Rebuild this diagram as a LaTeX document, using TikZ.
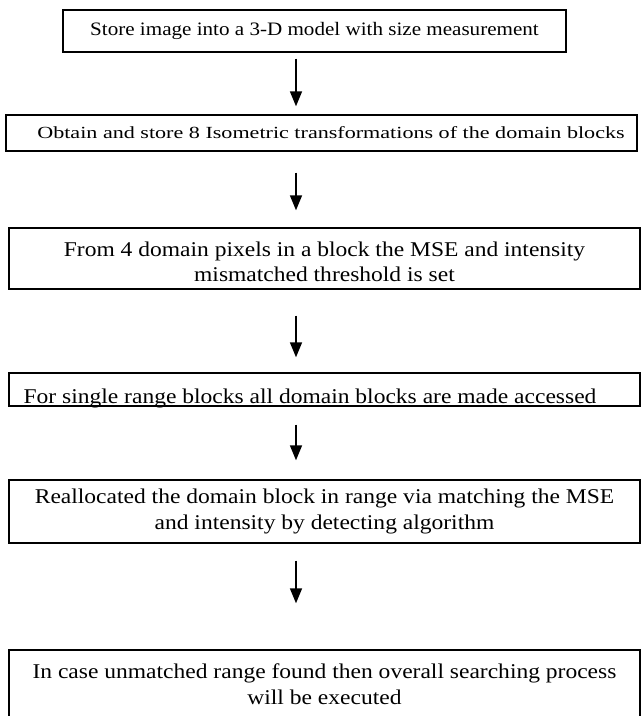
\documentclass[tikz,border=0pt]{standalone}
\usepackage{fontspec}
\setmainfont{Liberation Serif}
\usetikzlibrary{arrows.meta}
\begin{document}
\begin{tikzpicture}[x=1pt,y=-1pt,
  box/.style={draw=black, line width=1.4pt, rectangle, inner sep=0pt},
  lbl/.style={align=center, font=\fontsize{21}{25.5}\selectfont, xscale=1.12, transform shape},
  arr/.style={line width=1.5pt, -{Triangle[length=15pt,width=12pt]}}]
\useasboundingbox (0,0) rectangle (643,716);
% boxes
\node[box, minimum width=503pt, minimum height=42pt] (b1) at (314.5,31) {};
\node[lbl, font=\fontsize{19}{24}\selectfont, xscale=1.11/1.12] (t1) at (b1.center) {Store image into a 3-D model with size measurement};
\node[box, minimum width=631pt, minimum height=36pt] (b2) at (321.5,133) {};
\node[lbl, font=\fontsize{17}{20}\selectfont, xscale=1.3/1.12] (t2) at (331,133) {Obtain and store 8 Isometric transformations of the domain blocks};
\node[box, minimum width=631pt, minimum height=61pt] (b3) at (324.5,258.5) {};
\node[lbl] (t3) at (324.5,262) {From 4 domain pixels in a block the MSE and intensity\\mismatched threshold is set};
\node[box, minimum width=631pt, minimum height=33pt] (b4) at (324.5,389.5) {};
\node[lbl, anchor=base] (t4) at (310,403) {For single range blocks all domain blocks are made accessed};
\node[box, minimum width=631pt, minimum height=63pt] (b5) at (324.5,511.5) {};
\node[lbl] (t5) at (b5.center) {Reallocated the domain block in range via matching the MSE\\and intensity by detecting algorithm};
\node[box, minimum width=631pt, minimum height=90pt] (b6) at (324.5,695) {};
\node[lbl] (t6) at (324.5,684) {In case unmatched range found then overall searching process\\will be executed};
% arrows
\coordinate (ax) at (296,0);
\draw[arr, shorten <=6pt, shorten >=8pt] (b1.south -| ax) -- (b2.north -| ax);
\draw[arr, shorten <=21pt, shorten >=17pt] (b2.south -| ax) -- (b3.north -| ax);
\draw[arr, shorten <=26pt, shorten >=15pt] (b3.south -| ax) -- (b4.north -| ax);
\draw[arr, shorten <=18pt, shorten >=19pt] (b4.south -| ax) -- (b5.north -| ax);
\draw[arr, shorten <=17pt, shorten >=46pt] (b5.south -| ax) -- (b6.north -| ax);
\end{tikzpicture}
\end{document}
